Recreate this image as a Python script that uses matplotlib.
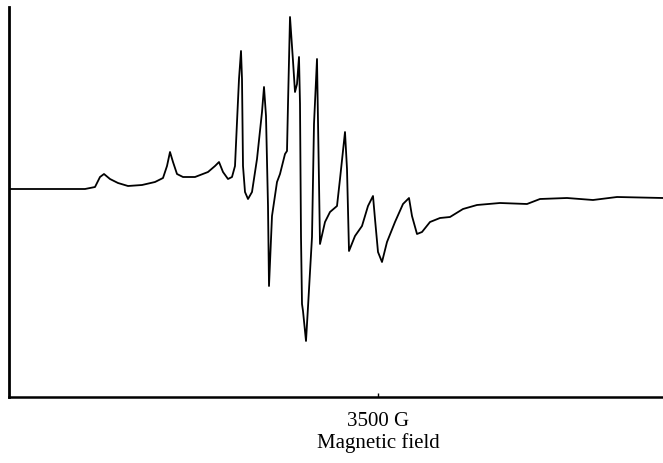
import matplotlib.pyplot as plt

plt.rcParams['font.family'] = ['Liberation Serif', 'DejaVu Serif']

feld = [3131, 3207, 3217, 3222, 3226, 3232, 3240, 3250, 3264, 3277,
        3285, 3289, 3292, 3295, 3299, 3305, 3317, 3330, 3337, 3341,
        3345, 3350, 3354, 3357, 3359, 3361, 3363, 3364, 3365, 3367,
        3370, 3374, 3379, 3384, 3386, 3388, 3390, 3391, 3394, 3399,
        3402, 3407, 3409, 3410, 3412, 3415, 3417, 3419, 3421, 3422,
        3423, 3424, 3425, 3428, 3430, 3434, 3436, 3439, 3440, 3442,
        3447, 3452, 3459, 3462, 3467, 3469, 3471, 3477, 3484, 3490,
        3495, 3497, 3500, 3504, 3509, 3517, 3525, 3531, 3534, 3539,
        3544, 3552, 3562, 3572, 3585, 3599, 3622, 3649, 3662, 3689,
        3715, 3739, 3785]
signal = [0, 0, 2, 12, 15, 10, 6, 3, 4, 7,
          11, 23, 37, 27, 15, 12, 12, 17, 23, 27,
          17, 10, 12, 23, 67, 110, 138, 110, 23, -3,
          -10, -3, 30, 77, 102, 73, -17, -97, -27, 7,
          15, 35, 38, 85, 172, 128, 97, 105, 132, 85,
          -48, -115, -122, -152, -118, -48, 65, 130, 68, -55,
          -33, -23, -17, 10, 57, 20, -62, -47, -37, -17,
          -7, -30, -63, -73, -53, -33, -15, -9, -27, -45,
          -43, -33, -29, -28, -20, -16, -14, -15, -10, -9,
          -11, -8, -9]

fig = plt.figure(figsize=(6.63, 4.64), dpi=100)
ax = fig.add_axes([9 / 663, 66 / 464, 654 / 663, 390 / 464])

ax.plot(feld, signal, color="black", linewidth=1.3)

ax.set_xlim(3131, 3785)
ax.set_ylim(-208, 182)
ax.spines["top"].set_visible(False)
ax.spines["right"].set_visible(False)
ax.spines["left"].set_linewidth(2)
ax.spines["bottom"].set_linewidth(1.8)
ax.set_yticks([])
ax.set_xticks([3500])
ax.set_xticklabels(["3500 G"], fontsize=15)
ax.tick_params(axis="x", direction="in", length=3, width=1, pad=10)
ax.set_xlabel("Magnetic field", fontsize=15)
ax.xaxis.set_label_coords((3500 - 3131) / 654, -0.09)

fig.savefig("out.png", dpi=100)
